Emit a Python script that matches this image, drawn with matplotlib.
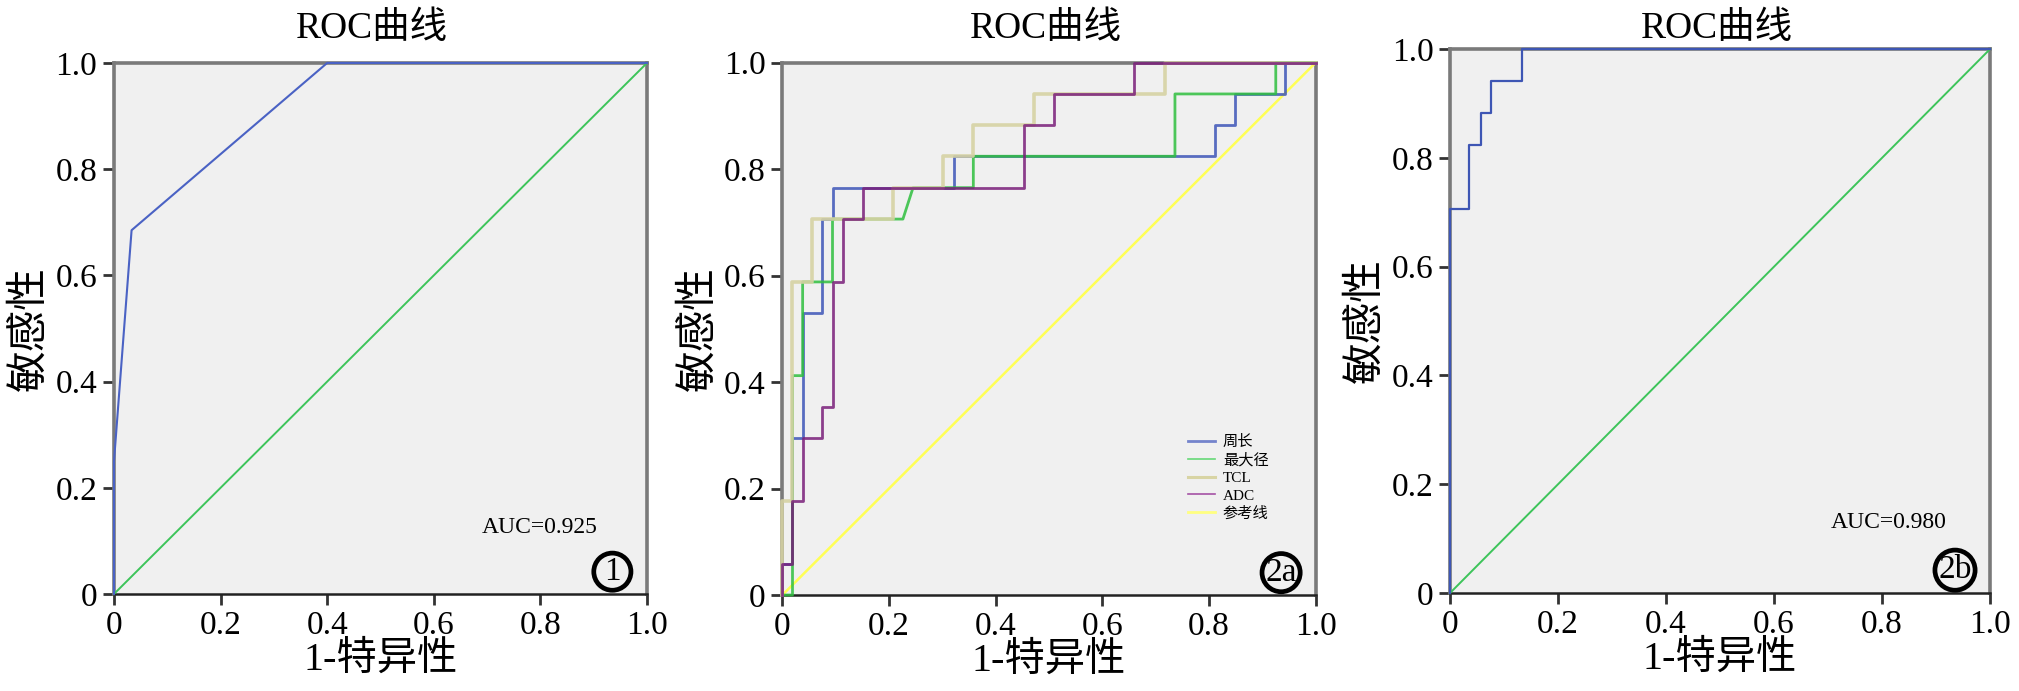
import matplotlib
matplotlib.use('Agg')
import matplotlib.pyplot as plt
from matplotlib.lines import Line2D

plt.rcParams['font.family'] = ['Liberation Serif', 'Noto Sans CJK SC', 'DejaVu Sans']

# --- data ---
tick_vals = [0, 0.2, 0.4, 0.6, 0.8, 1.0]
tick_labels = ['0', '0.2', '0.4', '0.6', '0.8', '1.0']

# fig 1: single ROC
p1_fpr = [0.0, 0.0, 0.033, 0.40, 1.0]
p1_tpr = [0.0, 0.25, 0.685, 1.0, 1.0]
p1_auc = 'AUC=0.925'

# fig 2a: four parameters
zc_fpr = [0, 0, 0.019, 0.019, 0.038, 0.038, 0.075, 0.075, 0.094, 0.094, 0.321, 0.321,
          0.811, 0.811, 0.849, 0.849, 0.943, 0.943, 1.0]
zc_tpr = [0, 0.059, 0.059, 0.294, 0.294, 0.529, 0.529, 0.706, 0.706, 0.765, 0.765, 0.824,
          0.824, 0.882, 0.882, 0.941, 0.941, 1.0, 1.0]
zdj_fpr = [0, 0.019, 0.019, 0.038, 0.038, 0.094, 0.094, 0.226, 0.245, 0.358, 0.358,
           0.736, 0.736, 0.925, 0.925, 1.0]
zdj_tpr = [0, 0, 0.412, 0.412, 0.588, 0.588, 0.706, 0.706, 0.765, 0.765, 0.824,
           0.824, 0.941, 0.941, 1.0, 1.0]
tcl_fpr = [0, 0, 0.019, 0.019, 0.056, 0.056, 0.208, 0.208, 0.302, 0.302, 0.358, 0.358,
           0.472, 0.472, 0.717, 0.717, 1.0]
tcl_tpr = [0, 0.176, 0.176, 0.588, 0.588, 0.706, 0.706, 0.765, 0.765, 0.824, 0.824, 0.882,
           0.882, 0.941, 0.941, 1.0, 1.0]
adc_fpr = [0, 0, 0.019, 0.019, 0.038, 0.038, 0.075, 0.075, 0.094, 0.094, 0.113, 0.113,
           0.151, 0.151, 0.453, 0.453, 0.509, 0.509, 0.660, 0.660, 1.0]
adc_tpr = [0, 0.059, 0.059, 0.176, 0.176, 0.294, 0.294, 0.353, 0.353, 0.588, 0.588, 0.706,
           0.706, 0.765, 0.765, 0.882, 0.882, 0.941, 0.941, 1.0, 1.0]
legend_names = ['周长', '最大径', 'TCL', 'ADC', '参考线']

# fig 2b: combined ROC
p3_fpr = [0, 0, 0.036, 0.036, 0.057, 0.057, 0.075, 0.075, 0.133, 0.133, 1.0]
p3_tpr = [0, 0.706, 0.706, 0.824, 0.824, 0.882, 0.882, 0.941, 0.941, 1.0, 1.0]
p3_auc = 'AUC=0.980'

diag = [0, 1]

fig = plt.figure(figsize=(20.19, 6.91), dpi=100)
ax1 = fig.add_axes([0.05646, 0.1404, 0.2640, 0.7685])
ax2 = fig.add_axes([0.3875, 0.1389, 0.2642, 0.7706])
ax3 = fig.add_axes([0.7182, 0.1418, 0.2675, 0.7873])


def style(ax, title_x, title_y, tag):
    ax.set_facecolor('#f0f0f0')
    ax.set_xlim(0, 1)
    ax.set_ylim(0, 1)
    ax.set_xticks(tick_vals)
    ax.set_yticks(tick_vals)
    ax.set_xticklabels(tick_labels)
    ax.set_yticklabels(tick_labels)
    ax.tick_params(direction='out', length=8, width=2, color='#333333',
                   labelsize=24, pad=4)
    for s in ['left', 'right', 'top']:
        ax.spines[s].set_color('#7a7a7a')
        ax.spines[s].set_linewidth(2.6)
    ax.spines['bottom'].set_color('#222222')
    ax.spines['bottom'].set_linewidth(1.8)
    ax.set_xlabel('1-特异性', fontsize=29, labelpad=0)
    ax.set_ylabel('敏感性', fontsize=30, labelpad=4)
    ax.text(title_x, title_y, 'ROC曲线', transform=ax.transAxes, ha='center',
            va='center', fontsize=27)
    ax.text(0.935, 0.042, tag, transform=ax.transAxes, ha='center', va='center',
            fontsize=24, zorder=6,
            bbox=dict(boxstyle='circle,pad=0.1', fc='none', ec='black', lw=3.4))


# panel 1
ax1.plot(diag, diag, color='#3dc45a', lw=1.4, clip_on=False, zorder=4)
ax1.plot(p1_fpr, p1_tpr, color='#4a62c4', lw=1.5, clip_on=False, zorder=5)
ax1.text(0.69, 0.125, p1_auc, transform=ax1.transAxes, fontsize=17, va='center')
style(ax1, 0.483, 1.064, '1')

# panel 2
ax2.plot(diag, diag, color='#ffff55', lw=1.8, clip_on=False, zorder=3)
ax2.plot(zc_fpr, zc_tpr, color='#3d55b8', lw=2, alpha=0.85, clip_on=False, zorder=4)
ax2.plot(zdj_fpr, zdj_tpr, color='#2fbf3f', lw=2, alpha=0.85, clip_on=False, zorder=4)
ax2.plot(tcl_fpr, tcl_tpr, color='#d6d2a4', lw=2.6, alpha=0.9, clip_on=False, zorder=4)
ax2.plot(adc_fpr, adc_tpr, color='#7a1f7a', lw=2, alpha=0.85, clip_on=False, zorder=5)
leg_handles = [Line2D([], [], color='#7484cc', lw=2),
               Line2D([], [], color='#66d877', lw=1.2),
               Line2D([], [], color='#d8d4a4', lw=2.2),
               Line2D([], [], color='#a552a5', lw=1.2),
               Line2D([], [], color='#ffff80', lw=2)]
ax2.legend(leg_handles, legend_names, loc='upper left', bbox_to_anchor=(0.76, 0.30),
           frameon=False, fontsize=11, handlelength=1.8, handletextpad=0.5,
           labelspacing=0.25, borderpad=0, borderaxespad=0)
style(ax2, 0.494, 1.064, '2a')

# panel 3
ax3.plot(diag, diag, color='#3dc45a', lw=1.4, clip_on=False, zorder=4)
ax3.plot(p3_fpr, p3_tpr, color='#3e56b4', lw=1.6, clip_on=False, zorder=5)
ax3.text(0.705, 0.13, p3_auc, transform=ax3.transAxes, fontsize=17, va='center')
style(ax3, 0.494, 1.037, '2b')

fig.savefig('out.png', dpi=100)
